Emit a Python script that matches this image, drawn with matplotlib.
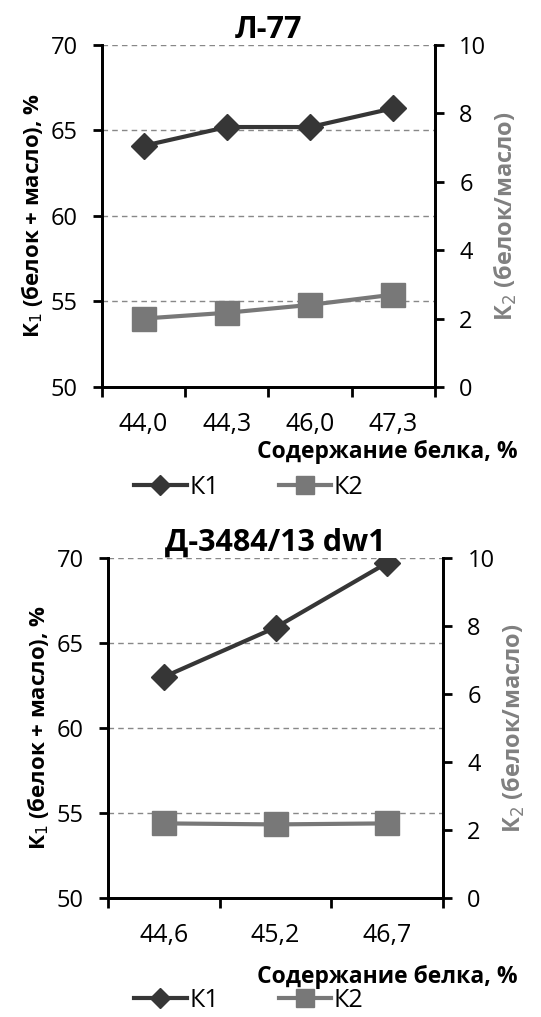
import matplotlib.pyplot as plt

plt.rcParams['font.family'] = ['Open Sans', 'DejaVu Sans']

# Panel 1: Л-77
cats_top = ['44,0', '44,3', '46,0', '47,3']
k1_top = [64.1, 65.2, 65.2, 66.3]
k2_top = [2.0, 2.17, 2.4, 2.7]

# Panel 2: Д-3484/13 dw1
cats_bot = ['44,6', '45,2', '46,7']
k1_bot = [63.0, 65.9, 69.7]
k2_bot = [2.2, 2.17, 2.2]

C1 = '#363636'
C2 = '#787878'

fig = plt.figure(figsize=(5.41, 10.17), dpi=100)


def panel(rect, title, cats, k1, k2, legend_y, xlabel_y):
    ax = fig.add_axes(rect)
    ax2 = ax.twinx()
    x = list(range(len(cats)))
    ax.set_xlim(-0.5, len(cats) - 0.5)
    ax.set_ylim(50, 70)
    ax2.set_ylim(0, 10)
    ax.set_yticks([50, 55, 60, 65, 70])
    ax2.set_yticks([0, 2, 4, 6, 8, 10])
    for v in [55, 60, 65, 70]:
        ax.axhline(v, color='#888888', lw=1, ls=(0, (4, 3)), zorder=0)
    l1, = ax.plot(x, k1, color=C1, lw=3, marker='D', ms=13, zorder=3)
    l2, = ax2.plot(x, k2, color=C2, lw=3, marker='s', ms=17, zorder=3)
    # categories on a category axis: ticks sit between categories
    ax.set_xticks([i - 0.5 for i in range(len(cats) + 1)])
    ax.set_xticklabels([])
    ax.set_xticks(x, minor=True)
    ax.set_xticklabels(cats, minor=True, fontsize=18)
    ax.tick_params(axis='x', which='minor', length=0, pad=18)
    ax.tick_params(axis='x', which='major', length=7, width=2)
    ax.tick_params(axis='y', labelsize=17, length=6.5, width=2, pad=11)
    ax2.tick_params(axis='y', labelsize=17, length=6.5, width=2, pad=11)
    for a in (ax, ax2):
        a.spines['top'].set_visible(False)
        for s in ('left', 'right', 'bottom'):
            a.spines[s].set_linewidth(2)
    ax.set_ylabel('К$_1$ (белок + масло), %', fontsize=16, fontweight='bold', labelpad=4)
    ax2.set_ylabel('К$_2$ (белок/масло)', fontsize=17, fontweight='bold', color='#808080', labelpad=4)
    ax.set_title(title, fontsize=22, fontweight='bold', pad=-3)
    fig.text(0.957, xlabel_y, 'Содержание белка, %', fontsize=16.5, fontweight='bold',
             ha='right', va='center')
    fig.legend([l1, l2], ['К1', 'К2'], loc='center', bbox_to_anchor=(0.46, legend_y),
               ncol=2, frameon=False, fontsize=18, handlelength=2.1, columnspacing=2.4,
               handletextpad=0.1, markerscale=0.75)


panel([0.1885, 0.6195, 0.6155, 0.3363], 'Л-77', cats_top, k1_top, k2_top, 0.521, 0.556)
panel([0.1996, 0.1167, 0.6193, 0.3349], 'Д-3484/13 dw1', cats_bot, k1_bot, k2_bot, 0.016, 0.039)

fig.savefig('out.png', dpi=100)
